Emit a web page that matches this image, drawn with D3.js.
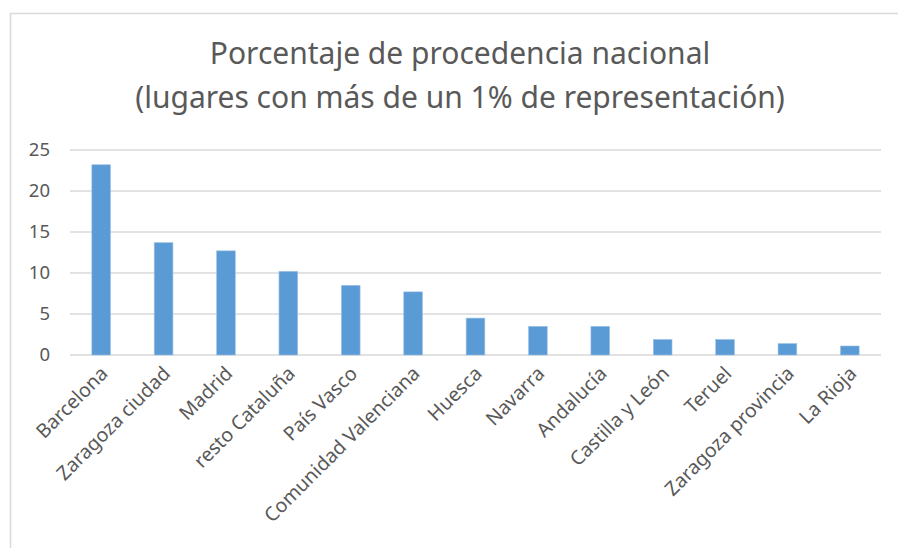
<!DOCTYPE html>
<html>
<head>
<meta charset="utf-8">
<script src="https://cdn.jsdelivr.net/npm/d3@7"></script>
<style>
  body { margin: 0; background: #fff; }
</style>
</head>
<body>
<div id="chart"></div>
<script>
const regiones = ["Barcelona", "Zaragoza ciudad", "Madrid", "resto Cataluña", "País Vasco",
    "Comunidad Valenciana", "Huesca", "Navarra", "Andalucía", "Castilla y León", "Teruel",
    "Zaragoza provincia", "La Rioja"];
const porcentajes = [23.2, 13.7, 12.7, 10.2, 8.5, 7.7, 4.5, 3.5, 3.5, 1.9, 1.9, 1.4, 1.1];
const yTicks = [0, 5, 10, 15, 20, 25];
const titulo = ["Porcentaje de procedencia nacional", "(lugares con más de un 1% de representación)"];

const width = 898, height = 548;
const margin = { top: 150, right: 17, bottom: 193, left: 70 };
const fuente = "'Noto Sans', sans-serif";

const svg = d3.select("#chart").append("svg")
    .attr("width", width)
    .attr("height", height);

// marco del gráfico
svg.append("rect")
    .attr("x", 10.5).attr("y", 13.5)
    .attr("width", 920).attr("height", 600)
    .attr("fill", "none")
    .attr("stroke", "#d9d9d9")
    .attr("stroke-width", 1.5);

const x = d3.scaleBand()
    .domain(regiones)
    .range([margin.left, width - margin.right])
    .paddingInner(0.7)
    .paddingOuter(0.35);

const y = d3.scaleLinear()
    .domain([0, 25])
    .range([height - margin.bottom, margin.top]);

// líneas de cuadrícula
svg.append("g")
    .selectAll("line")
    .data(yTicks)
    .join("line")
    .attr("x1", margin.left)
    .attr("x2", width - margin.right)
    .attr("y1", d => y(d))
    .attr("y2", d => y(d))
    .attr("stroke", "#d9d9d9")
    .attr("stroke-width", 1.3);

svg.append("g")
    .selectAll("text")
    .data(yTicks)
    .join("text")
    .attr("x", 50)
    .attr("y", d => y(d))
    .attr("dy", "0.35em")
    .attr("text-anchor", "end")
    .attr("fill", "#595959")
    .style("font-family", fuente)
    .style("font-size", "18.5px")
    .text(d => d);

svg.append("g")
    .selectAll("rect")
    .data(porcentajes)
    .join("rect")
    .attr("x", (d, i) => x(regiones[i]))
    .attr("width", x.bandwidth())
    .attr("y", d => y(d))
    .attr("height", d => y(0) - y(d))
    .attr("fill", "#5b9bd5")
    .attr("stroke", "#9dc3e6")
    .attr("stroke-width", 0.6);

// etiquetas del eje x
svg.append("g")
    .selectAll("text")
    .data(regiones)
    .join("text")
    .attr("transform", d => `translate(${x(d) + x.bandwidth() / 2 + 3},${y(0) + 15}) rotate(-45)`)
    .attr("text-anchor", "end")
    .attr("dy", "0.35em")
    .attr("fill", "#595959")
    .style("font-family", fuente)
    .style("font-size", "19.5px")
    .text(d => d);

svg.append("g")
    .selectAll("text")
    .data(titulo)
    .join("text")
    .attr("x", 460)
    .attr("y", (d, i) => 64 + i * 44)
    .attr("text-anchor", "middle")
    .attr("fill", "#595959")
    .style("font-family", fuente)
    .style("font-size", "30px")
    .text(d => d);
</script>
</body>
</html>
